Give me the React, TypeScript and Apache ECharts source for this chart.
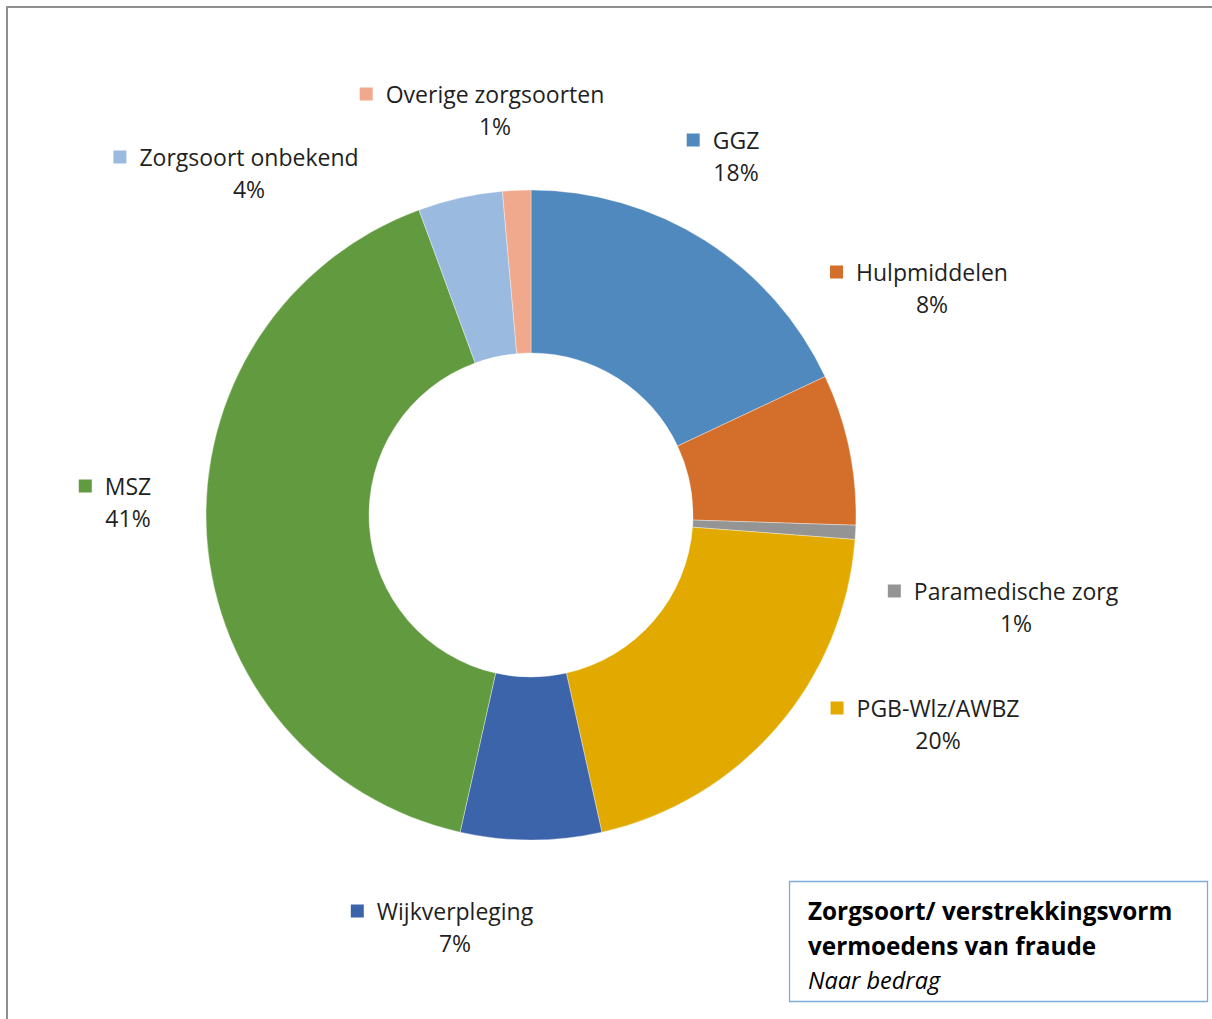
import React, { useEffect, useRef } from "react";
import * as echarts from "echarts";

const categories = [
  "GGZ",
  "Hulpmiddelen",
  "Paramedische zorg",
  "PGB-Wlz/AWBZ",
  "Wijkverpleging",
  "MSZ",
  "Zorgsoort onbekend",
  "Overige zorgsoorten",
];
const shares = [18.0, 7.5, 0.7, 20.3, 7.0, 40.9, 4.2, 1.4];
const colors = ["#4F89BD", "#D36F2B", "#949494", "#E2AA00", "#3C64AA", "#629A3F", "#9ABAE0", "#F0A98C"];
const titleLines = ["Zorgsoort/ verstrekkingsvorm", "vermoedens van fraude", "Naar bedrag"];

// label block centres (layout only)
const labelPos: [number, number][] = [
  [723, 156],
  [919, 288],
  [1003, 607],
  [925, 724],
  [442, 927],
  [115, 502],
  [236, 173],
  [482, 110],
];

const FONT = "'Open Sans', 'Noto Sans', sans-serif";

export default function App() {
  const ref = useRef<HTMLDivElement>(null);
  useEffect(() => {
    if (!ref.current) return;
    const chart = echarts.init(ref.current, undefined, { renderer: "svg" });
    const data = categories.map((name, i) => ({
      name,
      value: shares[i],
      itemStyle: { color: colors[i] },
      label: {
        rich: {
          m: { width: 13, height: 13, backgroundColor: colors[i] },
          g: { width: 13, height: 13 },
          s: { width: 26, height: 13 },
          n: { fontSize: 23, color: "#1f1f1f", fontFamily: FONT, lineHeight: 32 },
          p: { fontSize: 23, color: "#1f1f1f", fontFamily: FONT, lineHeight: 32 },
        },
      },
    }));
    chart.setOption({
      animation: false,
      backgroundColor: "#ffffff",
      graphic: [
        {
          type: "rect",
          shape: { x: 7, y: 7, width: 1230, height: 1040 },
          style: { fill: "none", stroke: "#8f8f8f", lineWidth: 2 },
          silent: true,
        },
        {
          type: "rect",
          shape: { x: 789.5, y: 881.5, width: 418, height: 120 },
          style: { fill: "#ffffff", stroke: "#7FAADC", lineWidth: 1.3 },
          silent: true,
        },
        {
          type: "text",
          x: 808,
          y: 910,
          style: {
            text: titleLines[0],
            font: `bold 24.3px ${FONT}`,
            fill: "#000000",
            textVerticalAlign: "middle",
          },
        },
        {
          type: "text",
          x: 808,
          y: 945,
          style: {
            text: titleLines[1],
            font: `bold 24.3px ${FONT}`,
            fill: "#000000",
            textVerticalAlign: "middle",
          },
        },
        {
          type: "text",
          x: 808,
          y: 980,
          style: {
            text: titleLines[2],
            font: `italic 23.5px ${FONT}`,
            fill: "#000000",
            textVerticalAlign: "middle",
          },
        },
      ],
      series: [
        {
          type: "pie",
          center: [531, 515],
          radius: [162, 325],
          startAngle: 90,
          clockwise: true,
          percentPrecision: 0,
          avoidLabelOverlap: false,
          itemStyle: { borderColor: "rgba(255,255,255,0.6)", borderWidth: 0.6 },
          label: {
            show: true,
            position: "outside",
            formatter: "{m|}{g|}{n|{b}}\n{s|}{p|{d}%}",
            align: "center",
          },
          labelLine: { show: false },
          labelLayout: (params: any) => {
            const p = labelPos[params.dataIndex];
            return { x: p[0], y: p[1], align: "center", verticalAlign: "middle" };
          },
          emphasis: { disabled: true },
          data,
        },
      ],
    });
    return () => chart.dispose();
  }, []);
  return (
    <div
      ref={ref}
      style={{ position: "fixed", left: 0, top: 0, width: 1212, height: 1019 }}
    />
  );
}
